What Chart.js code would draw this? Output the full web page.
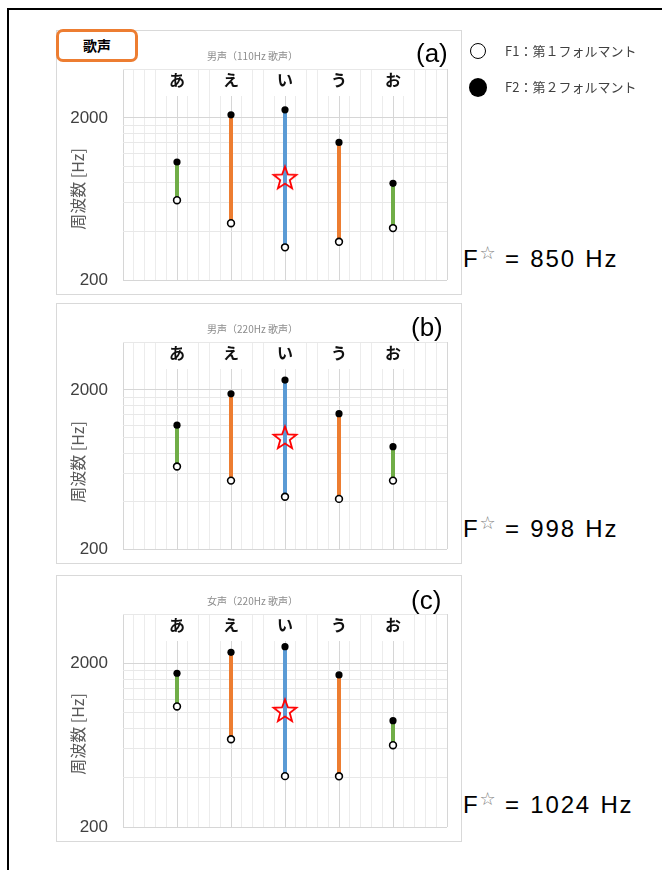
<!DOCTYPE html>
<html>
<head>
<meta charset="utf-8">
<script src="https://cdn.jsdelivr.net/npm/chart.js@4.4.1/dist/chart.umd.min.js"></script>
<style>
    body { margin: 0; width: 662px; height: 870px; background: #fff; position: relative; overflow: hidden; font-family: 'Liberation Sans', Arial, sans-serif; }
    .frameTop { position: absolute; left: 7px; top: 8px; width: 655px; height: 2px; background: #000; }
    .frameLeft { position: absolute; left: 7px; top: 8px; width: 2px; height: 862px; background: #000; }
    .panel { position: absolute; left: 56px; width: 406px; border: 1px solid #d9d9d9; box-sizing: border-box; background: #fff; }
    .panel canvas { position: absolute; left: 0; top: 0; }
    .ytitle { position: absolute; left: 20px; top: 158px; width: 120px; margin-left: -60px; margin-top: -10px; height: 20px; line-height: 20px; text-align: center; font-family: 'Noto Sans CJK JP', sans-serif; font-size: 16px; color: #595959; transform: rotate(-90deg); }
    .tag { position: absolute; font-size: 26px; line-height: 26px; color: #000; }
    .fstar { position: absolute; left: 463px; font-size: 24px; line-height: 24px; color: #000; letter-spacing: 1.8px; word-spacing: 1px; white-space: nowrap; }
    .fstar span { font-family: 'DejaVu Sans', sans-serif; font-size: 18px; letter-spacing: 0; color: #808080; position: relative; top: -8px; margin-left: 0; margin-right: 0; }
    .badge { position: absolute; left: 56px; top: 29px; width: 82px; height: 33px; box-sizing: border-box; border: 3px solid #ed7d31; border-radius: 7px; background: #fff; text-align: center; line-height: 27px; font-family: 'Noto Sans CJK JP', sans-serif; font-weight: bold; font-size: 14px; color: #000; }
    .leg { position: absolute; left: 505px; font-family: 'Noto Sans CJK JP', sans-serif; font-size: 13px; color: #404040; line-height: 16px; }
    .dot { position: absolute; border-radius: 50%; box-sizing: border-box; }
</style>
</head>
<body>
<div class="frameTop"></div>
<div class="frameLeft"></div>

<div class="panel" style="top:30px;height:265px"><canvas id="chartA" width="404" height="263"></canvas><div class="ytitle">周波数 [Hz]</div></div>
<div class="panel" style="top:303px;height:261px"><canvas id="chartB" width="404" height="259"></canvas><div class="ytitle">周波数 [Hz]</div></div>
<div class="panel" style="top:575px;height:267px"><canvas id="chartC" width="404" height="265"></canvas><div class="ytitle">周波数 [Hz]</div></div>

<div class="badge">歌声</div>
<div class="tag" style="left:416px;top:40px">(a)</div>
<div class="tag" style="left:411px;top:314px">(b)</div>
<div class="tag" style="left:411px;top:587px">(c)</div>

<div class="dot" style="left:470px;top:43px;width:16px;height:16px;border:1.5px solid #000;background:#fff"></div>
<div class="dot" style="left:469px;top:78px;width:18px;height:19px;background:#000"></div>
<div class="leg" style="top:43px">F1：第１フォルマント</div>
<div class="leg" style="top:79px">F2：第２フォルマント</div>

<div class="fstar" style="top:247px">F<span>☆</span> = 850 Hz</div>
<div class="fstar" style="top:517px">F<span>☆</span> = 998 Hz</div>
<div class="fstar" style="top:793px">F<span>☆</span> = 1024 Hz</div>

<script>
const vowels = ['あ', 'え', 'い', 'う', 'お'];
const vowelColors = ['#70ad47', '#ed7d31', '#5b9bd5', '#ed7d31', '#70ad47'];

// 男声 110Hz
const f1A = [621, 448, 318, 344, 418];
const f2A = [1068, 2086, 2240, 1411, 789];
const starA = 850;
// 男声 220Hz
const f1B = [660, 538, 426, 413, 538];
const f2B = [1200, 1889, 2307, 1418, 879];
const starB = 998;
// 女声 220Hz
const f1C = [1090, 687, 409, 408, 632];
const f2C = [1739, 2332, 2526, 1698, 892];
const starC = 1024;

const starIndex = 2;
const yTicks = [200, 400, 600, 800, 1000, 1200, 1400, 1600, 1800, 2000, 4000];
const yLabels = [200, 2000];
const xTicks = [];
for (let i = 0; i <= 30; i++) xTicks.push(i / 5);

function starImage() {
    const c = document.createElement('canvas');
    c.width = 28;
    c.height = 28;
    const g = c.getContext('2d');
    g.beginPath();
    for (let i = 0; i < 10; i++) {
        const r = i % 2 === 0 ? 12 : 5;
        const a = -Math.PI / 2 + (i * Math.PI) / 5;
        const px = 14 + r * Math.cos(a);
        const py = 14.5 + r * Math.sin(a);
        if (i === 0) g.moveTo(px, py);
        else g.lineTo(px, py);
    }
    g.closePath();
    g.strokeStyle = '#ff0000';
    g.lineWidth = 1.8;
    g.stroke();
    return c;
}

const vowelLabels = {
    id: 'vowelLabels',
    beforeDatasetsDraw(chart) {
        const ctx = chart.ctx;
        const area = chart.chartArea;
        const xs = chart.scales.x;
        ctx.save();
        vowels.forEach((v, i) => {
            const px = xs.getPixelForValue(i + 1);
            ctx.fillStyle = '#fff';
            ctx.fillRect(px - 17, area.top + 1, 34, 26);
            ctx.fillStyle = '#111';
            ctx.font = 'bold 16px "Noto Sans CJK JP"';
            ctx.textAlign = 'center';
            ctx.textBaseline = 'middle';
            ctx.fillText(v, px, area.top + 11);
        });
        ctx.restore();
    },
};

function makeChart(id, title, f1, f2, star) {
    const datasets = [];
    datasets.push({
        data: [{ x: starIndex + 1, y: star }],
        pointStyle: starImage(),
        pointRadius: 13,
        order: 0,
    });
    datasets.push({
        data: f2.map((y, i) => ({ x: i + 1, y: y })),
        pointRadius: 3.6,
        pointBackgroundColor: '#000',
        pointBorderColor: '#000',
        pointBorderWidth: 0,
        order: 1,
    });
    datasets.push({
        data: f1.map((y, i) => ({ x: i + 1, y: y })),
        pointRadius: 3.4,
        pointBackgroundColor: '#fff',
        pointBorderColor: '#000',
        pointBorderWidth: 1.6,
        order: 2,
    });
    vowels.forEach((v, i) => {
        datasets.push({
            data: [{ x: i + 1, y: f1[i] }, { x: i + 1, y: f2[i] }],
            showLine: true,
            borderColor: vowelColors[i],
            borderWidth: 4,
            pointRadius: 0,
            order: 5,
        });
    });

    new Chart(document.getElementById(id).getContext('2d'), {
        type: 'scatter',
        data: { datasets: datasets },
        options: {
            responsive: false,
            animation: false,
            layout: { padding: { left: 0, right: 13, top: 0, bottom: 0 } },
            plugins: {
                legend: { display: false },
                tooltip: { enabled: false },
                title: {
                    display: true,
                    text: title,
                    color: '#8c8c8c',
                    font: { family: '"Noto Sans CJK JP"', size: 10, weight: 'normal' },
                    padding: { top: 19, bottom: 7 },
                },
            },
            scales: {
                x: {
                    type: 'linear',
                    min: 0,
                    max: 6,
                    afterBuildTicks: (s) => { s.ticks = xTicks.map((v) => ({ value: v })); },
                    afterFit: (s) => { s.height = 14; s.paddingLeft = 0; s.paddingRight = 0; },
                    ticks: { display: false },
                    border: { display: false },
                    grid: {
                        drawTicks: false,
                        color: (c) => (c.tick && Math.abs(c.tick.value - Math.round(c.tick.value)) < 1e-6 ? '#d6d6d6' : '#ececec'),
                    },
                },
                y: {
                    type: 'logarithmic',
                    min: 200,
                    max: 4000,
                    afterBuildTicks: (s) => { s.ticks = yTicks.map((v) => ({ value: v })); },
                    afterFit: (s) => { s.width = 66; s.paddingTop = 0; s.paddingBottom = 0; },
                    border: { display: false },
                    ticks: {
                        autoSkip: false,
                        padding: 15,
                        color: '#404040',
                        font: { family: '"Liberation Sans", Arial', size: 17 },
                        callback: (v) => (yLabels.includes(v) ? String(v) : ''),
                    },
                    grid: {
                        drawTicks: false,
                        color: (c) => (c.tick && (c.tick.value === 2000 || c.tick.value === 200) ? '#d6d6d6' : '#e8e8e8'),
                    },
                },
            },
        },
        plugins: [vowelLabels],
    });
}

makeChart('chartA', '男声（110Hz 歌声）', f1A, f2A, starA);
makeChart('chartB', '男声（220Hz 歌声）', f1B, f2B, starB);
makeChart('chartC', '女声（220Hz 歌声）', f1C, f2C, starC);
</script>
</body>
</html>
